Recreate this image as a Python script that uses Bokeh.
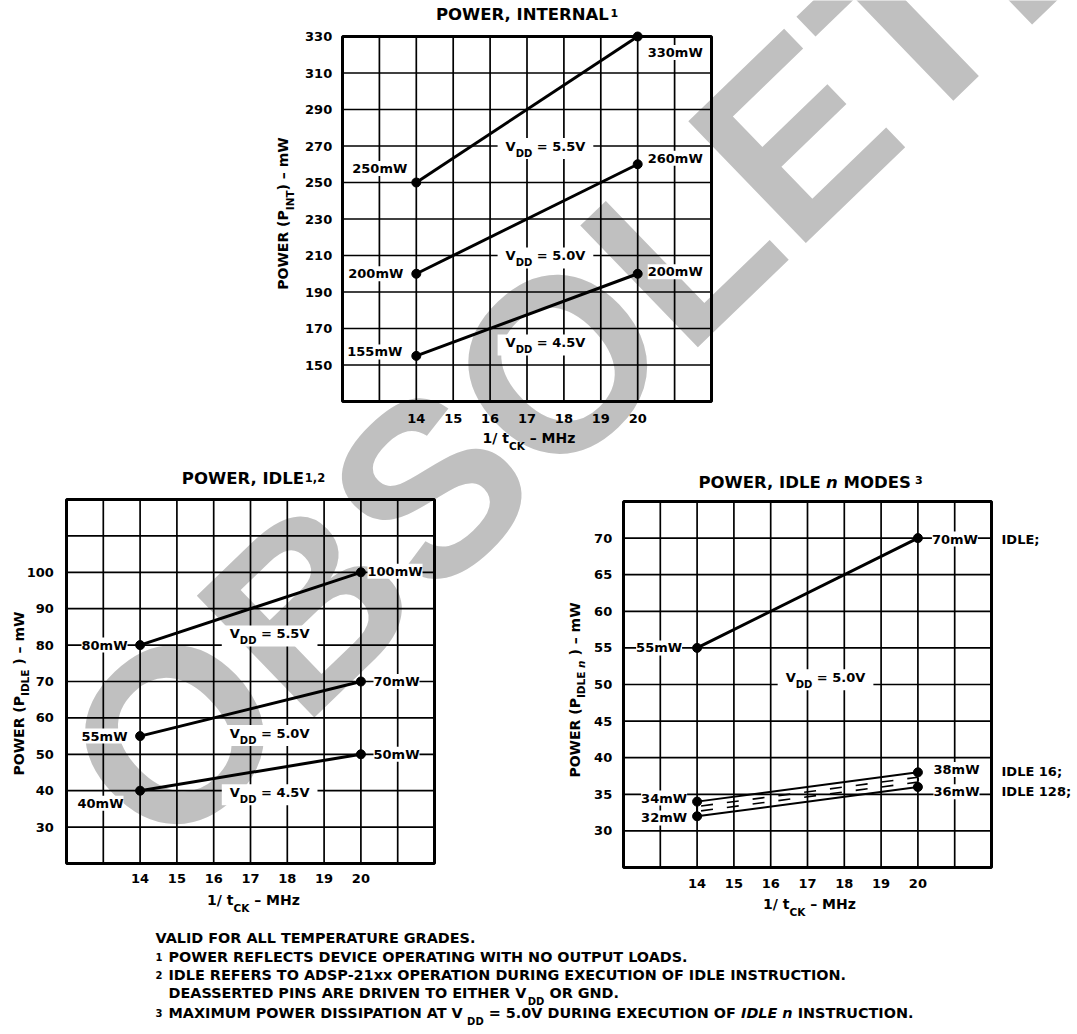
import math
from bokeh.plotting import figure
from bokeh.models import Range1d, Label
from bokeh.core.properties import value
from bokeh.embed import file_html
from bokeh.resources import INLINE

# ---------------- data ----------------
FREQ = [14, 20]                      # 1/tCK in MHz
INT_VDD55 = [250, 330]               # POWER, INTERNAL (mW)
INT_VDD50 = [200, 260]
INT_VDD45 = [155, 200]
IDLE_VDD55 = [80, 100]               # POWER, IDLE (mW)
IDLE_VDD50 = [55, 70]
IDLE_VDD45 = [40, 50]
IDLEN_IDLE = [55, 70]                # POWER, IDLE n MODES (mW), VDD = 5.0V
IDLEN_16 = [34, 38]
IDLEN_128 = [32, 36]

X_TICKS = [14, 15, 16, 17, 18, 19, 20]
X_GRID = [13, 14, 15, 16, 17, 18, 19, 20, 21]
P1_YTICKS = [150, 170, 190, 210, 230, 250, 270, 290, 310, 330]
P1_YGRID = [150, 170, 190, 210, 230, 250, 270, 290, 310]
P2_YTICKS = [30, 40, 50, 60, 70, 80, 90, 100]
P2_YGRID = [30, 40, 50, 60, 70, 80, 90, 100, 110]
P3_YTICKS = [30, 35, 40, 45, 50, 55, 60, 65, 70]
P3_YGRID = [30, 35, 40, 45, 50, 55, 60, 65, 70]

FONT = "DejaVu Sans"
PW, PH = 1077, 1034

# approximate advance widths of DejaVu Sans Bold (per em)
W = {' ': 0.348, '(': 0.457, ')': 0.457, ',': 0.380, '-': 0.415, '.': 0.380, '/': 0.365,
     ';': 0.400, '=': 0.838, '\u2013': 0.500,
     'A': 0.774, 'B': 0.762, 'C': 0.734, 'D': 0.830, 'E': 0.683, 'F': 0.683, 'G': 0.821,
     'H': 0.837, 'I': 0.372, 'K': 0.775, 'L': 0.637, 'M': 0.995, 'N': 0.837, 'O': 0.850,
     'P': 0.733, 'R': 0.770, 'S': 0.720, 'T': 0.682, 'U': 0.812, 'V': 0.774, 'W': 1.103,
     'X': 0.771, 'Y': 0.724, 'm': 1.042, 'n': 0.712, 't': 0.478, 'x': 0.663, 'z': 0.584}
for d in "0123456789":
    W[d] = 0.696


def tw(s, size):
    return sum(W.get(c, 0.65) for c in s) * size


p = figure(width=PW, height=PH, x_range=Range1d(0, PW), y_range=Range1d(0, PH),
           x_axis_type=None, y_axis_type=None, output_backend="svg",
           toolbar_location=None, title=None, min_border=0)
p.outline_line_color = None
p.background_fill_color = "white"
p.border_fill_color = "white"

# watermark (under everything)
p.text(x=[105], y=[PH - 800], text=["OBSOLETE"], angle=math.radians(44),
       text_font=value("Liberation Sans"), text_font_style="bold", text_font_size="246px",
       text_color="#c0c0c0", text_align="left", text_baseline="alphabetic")

XR, YR = {}, {}


def frame(name, left, right, top, bottom, xlim, ylim):
    """chart frame in page pixels -> extra ranges so the chart values map onto it"""
    x0, x1 = xlim
    y0, y1 = ylim
    kx = (x1 - x0) / (right - left)
    xs = x0 - kx * left
    XR[name] = Range1d(xs, xs + kx * PW)
    ky = (y1 - y0) / (bottom - top)
    YR[name] = Range1d(y0 - ky * (PH - bottom), y0 + ky * bottom)
    return dict(x_range_name=name, y_range_name=name)


def rich(x, y, segs, xo=0.0, yo=0.0, align="left", angle=0.0, rn=None):
    """segs: (text, size, shift_down_px, style) or ('', gap_px)."""
    rn = rn or {}
    def seg_w(sg):
        return sg[1] if sg[0] == "" else tw(sg[0], sg[1])
    total = sum(seg_w(s) for s in segs)
    pos = {"left": 0.0, "center": -total / 2.0, "right": -total}[align]
    for sg in segs:
        if sg[0] == "":
            pos += sg[1]
            continue
        t, size, sh, st = sg
        lead = len(t) - len(t.lstrip(" "))
        pos += tw(" " * lead, size)
        t2 = t.strip(" ")
        if angle == 0:
            ox, oy = xo + pos, yo - sh
        else:
            ox, oy = xo + sh, yo + pos
        p.add_layout(Label(x=x, y=y, x_offset=ox, y_offset=oy, text=t2, angle=angle,
                           text_font=FONT, text_font_size=f"{size}px", text_font_style=st,
                           text_color="black", text_align="left", text_baseline="middle", **rn))
        pos += tw(t.lstrip(" "), size)
    return total


def tag(rn, x, y, text, xo, yo, align, size=13, bg=True):
    p.add_layout(Label(x=x, y=y, x_offset=xo, y_offset=yo, text=text,
                       text_font=FONT, text_font_size=f"{size}px", text_font_style="bold",
                       text_color="black", text_align=align, text_baseline="middle",
                       background_fill_color="white" if bg else None, **rn))


def grid_and_axes(rn, ylim, ygrid, yticks, xlab_dy, ylab_dx):
    y0, y1 = ylim
    p.segment(x0=X_GRID, y0=[y0] * len(X_GRID), x1=X_GRID, y1=[y1] * len(X_GRID),
              line_color="black", line_width=1.7, **rn)
    p.segment(x0=[12] * len(ygrid), y0=ygrid, x1=[22] * len(ygrid), y1=ygrid,
              line_color="black", line_width=1.7, **rn)
    p.quad(left=[12], right=[22], bottom=[y0], top=[y1], fill_color=None,
           line_color="black", line_width=3, **rn)
    for t in X_TICKS:
        tag(rn, t, y0, str(t), 0, -xlab_dy, "center", bg=False)
    for t in yticks:
        tag(rn, 12, t, str(t), -ylab_dx, 0, "right", bg=False)


def vdd_label(rn, x, y, volts, ypp):
    segs = [("V", 13, 0, "bold"), ("DD", 10, 7, "bold"), (f" = {volts}V", 13, 0, "bold")]
    total = sum(tw(s[0], s[1]) for s in segs)
    p.rect(x=[x], y=[y - 2.5 * ypp], width=total + 16, height=21,
           width_units="screen", height_units="screen",
           fill_color="white", line_color=None, **rn)
    rich(x, y, segs, align="center", rn=rn)


def series(rn, xs, ys, lw=3):
    p.line(xs, ys, line_width=lw, line_color="black", **rn)
    p.scatter(xs, ys, size=9, fill_color="black", line_color="black", **rn)


def pg(x, y):
    """page pixel -> default (page) data coordinates"""
    return x, PH - y


# ---------------- top chart: POWER, INTERNAL ----------------
r1 = frame("c1", 342, 711, 36, 401, (12, 22), (130, 330))
grid_and_axes(r1, (130, 330), P1_YGRID, P1_YTICKS, 17, 10.3)
ypp1 = 200 / 365.0
vdd_label(r1, 17.5, 270, "5.5", ypp1)
vdd_label(r1, 17.5, 210, "5.0", ypp1)
vdd_label(r1, 17.5, 162.3, "4.5", ypp1)
for ys in (INT_VDD55, INT_VDD50, INT_VDD45):
    series(r1, FREQ, ys)
tag(r1, FREQ[0], INT_VDD55[0], f"{INT_VDD55[0]}mW", -9, 14, "right")
tag(r1, FREQ[0], INT_VDD50[0], f"{INT_VDD50[0]}mW", -13, 0, "right")
tag(r1, FREQ[0], INT_VDD45[0], f"{INT_VDD45[0]}mW", -14, 4, "right")
tag(r1, FREQ[1], INT_VDD55[1], f"{INT_VDD55[1]}mW", 10, -16, "left")
tag(r1, FREQ[1], INT_VDD50[1], f"{INT_VDD50[1]}mW", 10, 6, "left")
tag(r1, FREQ[1], INT_VDD45[1], f"{INT_VDD45[1]}mW", 10, 2, "left")
rich(*pg(526.5, 14.3), [("POWER, INTERNAL", 16.5, 0, "bold"), ("", 2), ("1", 11, -2, "bold")],
     align="center")
rich(*pg(528.5, 437), [("1/ t", 14, 0, "bold"), ("CK", 10.5, 8, "bold"), (" \u2013 MHz", 14, 0, "bold")],
     align="center")
rich(*pg(282.5, 213), [("POWER (P", 14, 0, "bold"), ("INT", 10.5, 7, "bold"), (") \u2013 mW", 14, 0, "bold")],
     align="center", angle=math.pi / 2)

# ---------------- bottom-left: POWER, IDLE ----------------
r2 = frame("c2", 66, 434, 499, 863, (12, 22), (20, 120))
grid_and_axes(r2, (20, 120), P2_YGRID, P2_YTICKS, 15.3, 12.7)
ypp2 = 100 / 364.0
vdd_label(r2, 17.52, 83.2, "5.5", ypp2)
vdd_label(r2, 17.52, 55.85, "5.0", ypp2)
vdd_label(r2, 17.52, 39.6, "4.5", ypp2)
for ys in (IDLE_VDD55, IDLE_VDD50, IDLE_VDD45):
    series(r2, FREQ, ys)
tag(r2, FREQ[0], IDLE_VDD55[0], f"{IDLE_VDD55[0]}mW", -12.6, 0, "right")
tag(r2, FREQ[0], IDLE_VDD50[0], f"{IDLE_VDD50[0]}mW", -12.6, 0, "right")
tag(r2, FREQ[0], IDLE_VDD45[0], f"{IDLE_VDD45[0]}mW", -16.6, -12.5, "right")
tag(r2, FREQ[1], IDLE_VDD55[1], f"{IDLE_VDD55[1]}mW", 6.6, 1, "left")
tag(r2, FREQ[1], IDLE_VDD50[1], f"{IDLE_VDD50[1]}mW", 12.6, 0, "left")
tag(r2, FREQ[1], IDLE_VDD45[1], f"{IDLE_VDD45[1]}mW", 12.6, 0, "left")
rich(*pg(253, 478), [("POWER, IDLE", 16.5, 0, "bold"), ("", 1), ("1,2", 11.5, -1.5, "bold")],
     align="center")
rich(*pg(253, 899), [("1/ t", 14, 0, "bold"), ("CK", 10.5, 8, "bold"), (" \u2013 MHz", 14, 0, "bold")],
     align="center")
rich(*pg(18, 693), [("POWER (P", 14, 0, "bold"), ("IDLE", 10.5, 6, "bold"), (" ) \u2013 mW", 14, 0, "bold")],
     align="center", angle=math.pi / 2)

# ---------------- bottom-right: POWER, IDLE n MODES ----------------
r3 = frame("c3", 623, 991, 501, 867, (12, 22), (25, 75))
grid_and_axes(r3, (25, 75), P3_YGRID, P3_YTICKS, 15.7, 11.3)
ypp3 = 50 / 366.0
vdd_label(r3, 17.49, 51.0, "5.0", ypp3)
series(r3, FREQ, IDLEN_IDLE)
band_hi = [a + (b - a) * 2.0 / 3.0 for a, b in zip(IDLEN_128, IDLEN_16)]
band_lo = [a + (b - a) * 1.0 / 3.0 for a, b in zip(IDLEN_128, IDLEN_16)]
p.line(FREQ, band_hi, line_width=1.6, line_color="black", line_dash="12 14", line_dash_offset=-4, **r3)
p.line(FREQ, band_lo, line_width=1.6, line_color="black", line_dash="12 14", line_dash_offset=-4, **r3)
p.segment(x0=[FREQ[0]], y0=[IDLEN_128[0]], x1=[FREQ[0]], y1=[IDLEN_16[0]],
          line_width=2, line_color="black", **r3)
p.segment(x0=[FREQ[1]], y0=[IDLEN_128[1]], x1=[FREQ[1]], y1=[IDLEN_16[1]],
          line_width=2, line_color="black", line_dash="3 3", **r3)
series(r3, FREQ, IDLEN_16, lw=2)
series(r3, FREQ, IDLEN_128, lw=2)
tag(r3, FREQ[0], IDLEN_IDLE[0], f"{IDLEN_IDLE[0]}mW", -15, 0, "right")
tag(r3, FREQ[1], IDLEN_IDLE[1], f"{IDLEN_IDLE[1]}mW", 14, -1, "left")
tag(r3, FREQ[0], IDLEN_16[0], f"{IDLEN_16[0]}mW", -10, 3.6, "right")
tag(r3, FREQ[0], IDLEN_128[0], f"{IDLEN_128[0]}mW", -10, -1.7, "right")
tag(r3, FREQ[1], IDLEN_16[1], f"{IDLEN_16[1]}mW", 15.6, 2.8, "left")
tag(r3, FREQ[1], IDLEN_128[1], f"{IDLEN_128[1]}mW", 15.6, -4.8, "left")
tag(r3, FREQ[1], IDLEN_IDLE[1], "IDLE;", 83.6, -1.5, "left", bg=False)
tag(r3, FREQ[1], IDLEN_16[1], "IDLE 16;", 83.6, 0.8, "left", bg=False)
tag(r3, FREQ[1], IDLEN_128[1], "IDLE 128;", 83.6, -5, "left", bg=False)
rich(*pg(810, 481.5), [("POWER, IDLE", 16.5, 0, "bold"), (" n", 16.5, 0, "bold italic"),
                       (" MODES", 16.5, 0, "bold"), ("", 4), ("3", 11, -2.5, "bold")],
     align="center")
rich(*pg(809, 903), [("1/ t", 14, 0, "bold"), ("CK", 10.5, 8, "bold"), (" \u2013 MHz", 14, 0, "bold")],
     align="center")
rich(*pg(574.5, 689.5), [("POWER (P", 14, 0, "bold"), ("IDLE", 10.5, 6, "bold"), (" n", 10.5, 6, "bold italic"),
                         (" ) \u2013 mW", 14, 0, "bold")],
     align="center", angle=math.pi / 2)

# ---------------- footnotes ----------------
FS = 14.4
rich(*pg(155, 937), [("VALID FOR ALL TEMPERATURE GRADES.", FS, 0, "bold")])
rich(*pg(155, 956.3), [("1", 10, 0, "bold")])
rich(*pg(168, 956.3), [("POWER REFLECTS DEVICE OPERATING WITH NO OUTPUT LOADS.", FS, 0, "bold")])
rich(*pg(155, 974.5), [("2", 10, 0, "bold")])
rich(*pg(168, 974.5), [("IDLE REFERS TO ADSP-21xx OPERATION DURING EXECUTION OF IDLE INSTRUCTION.", FS, 0, "bold")])
rich(*pg(168, 992), [("DEASSERTED PINS ARE DRIVEN TO EITHER V", FS, 0, "bold"), ("DD", 10, 9, "bold"),
                     (" OR GND.", FS, 0, "bold")])
rich(*pg(155, 1012), [("3", 10, 0, "bold")])
rich(*pg(168, 1012), [("MAXIMUM POWER DISSIPATION AT V", FS, 0, "bold"), ("DD", 10, 9, "bold"),
                      (" = 5.0V DURING EXECUTION OF ", FS, 0, "bold"), ("IDLE n", FS, 0, "bold italic"),
                      (" INSTRUCTION.", FS, 0, "bold")])

p.extra_x_ranges = XR
p.extra_y_ranges = YR

open("out.html", "w").write(file_html(p, INLINE))
